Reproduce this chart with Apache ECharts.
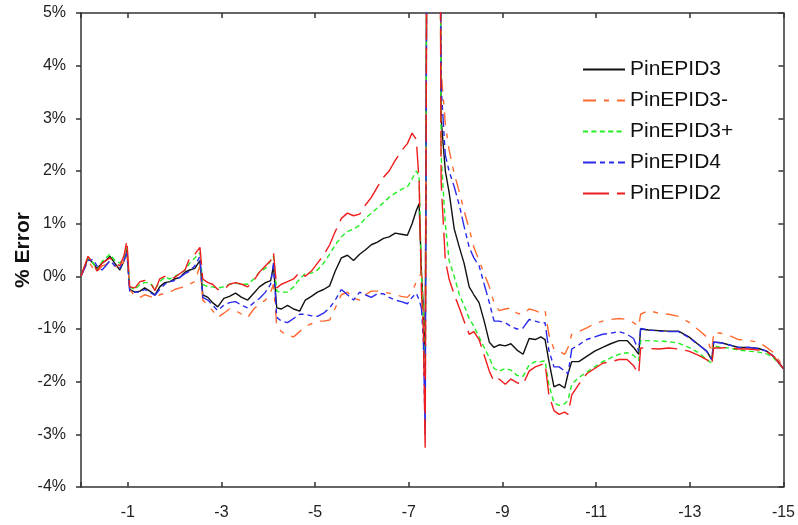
<!DOCTYPE html>
<html>
<head>
<meta charset="utf-8">
<script src="https://cdn.jsdelivr.net/npm/echarts@6/dist/echarts.min.js"></script>
<style>
html,body{margin:0;padding:0;background:#fff;}
#chart{width:798px;height:525px;}
</style>
</head>
<body>
<div id="chart"></div>
<script>
var xValues = [0,-0.15,-0.26,-0.34,-0.45,-0.53,-0.62,-0.72,-0.83,-0.92,-0.98,-1.04,-1.15,-1.26,-1.36,-1.47,-1.58,-1.68,-1.79,-1.90,-2.00,-2.11,-2.22,-2.32,-2.43,-2.54,-2.60,-2.71,-2.81,-2.92,-3.05,-3.17,-3.30,-3.43,-3.56,-3.69,-3.81,-3.94,-4.05,-4.11,-4.18,-4.28,-4.41,-4.54,-4.67,-4.79,-4.92,-5.05,-5.18,-5.31,-5.43,-5.56,-5.69,-5.82,-5.95,-6.07,-6.20,-6.33,-6.46,-6.58,-6.71,-6.84,-6.97,-7.07,-7.16,-7.22,-7.27,-7.31,-7.35,-7.39,-7.44,-7.63,-7.66,-7.69,-7.78,-7.86,-7.97,-8.08,-8.18,-8.29,-8.39,-8.50,-8.61,-8.72,-8.82,-8.93,-9.06,-9.18,-9.31,-9.44,-9.57,-9.70,-9.82,-9.91,-9.99,-10.10,-10.21,-10.33,-10.40,-10.48,-10.63,-10.80,-10.97,-11.14,-11.31,-11.49,-11.66,-11.80,-11.91,-11.95,-12.12,-12.34,-12.55,-12.76,-12.98,-13.19,-13.36,-13.47,-13.51,-13.66,-13.83,-14.04,-14.26,-14.47,-14.64,-14.79,-15.0];

var pinEPID3 = [0,0.35,0.25,0.15,0.25,0.3,0.38,0.25,0.12,0.3,0.5,-0.25,-0.3,-0.28,-0.22,-0.28,-0.35,-0.2,-0.12,-0.1,-0.05,-0.02,0.08,0.12,0.15,0.3,-0.35,-0.4,-0.5,-0.58,-0.42,-0.38,-0.32,-0.4,-0.45,-0.32,-0.2,-0.12,-0.08,0.2,-0.6,-0.62,-0.55,-0.62,-0.66,-0.45,-0.38,-0.3,-0.25,-0.18,0.1,0.35,0.4,0.3,0.42,0.5,0.6,0.65,0.72,0.75,0.82,0.8,0.78,1.0,1.25,1.38,0.1,-0.6,-1.5,8,10,10,9,3.0,2.0,1.6,0.9,0.55,0.25,-0.2,-0.35,-0.5,-0.85,-1.25,-1.35,-1.3,-1.32,-1.28,-1.4,-1.48,-1.18,-1.2,-1.15,-1.2,-1.6,-2.1,-2.05,-2.12,-1.85,-1.62,-1.62,-1.52,-1.42,-1.35,-1.28,-1.22,-1.22,-1.35,-1.48,-1.0,-1.02,-1.03,-1.04,-1.04,-1.15,-1.3,-1.42,-1.58,-1.25,-1.26,-1.3,-1.35,-1.35,-1.37,-1.42,-1.52,-1.75];

var pinEPID3Minus = [0,0.3,0.15,0.08,0.2,0.22,0.3,0.2,0.15,0.3,0.5,-0.25,-0.38,-0.4,-0.35,-0.38,-0.42,-0.35,-0.32,-0.3,-0.25,-0.22,-0.2,-0.15,-0.1,0.2,-0.45,-0.55,-0.65,-0.78,-0.7,-0.62,-0.65,-0.72,-0.78,-0.62,-0.52,-0.45,-0.3,-0.15,-0.95,-1.05,-1.12,-1.15,-1.05,-0.95,-0.9,-0.85,-0.85,-0.83,-0.6,-0.35,-0.3,-0.42,-0.45,-0.35,-0.28,-0.28,-0.3,-0.32,-0.35,-0.38,-0.4,-0.3,-0.1,0.0,0.05,-0.7,-1.1,8,10,10,9,3.9,2.9,2.4,1.95,1.6,1.25,0.9,0.55,0.3,0.05,-0.2,-0.5,-0.65,-0.62,-0.6,-0.7,-0.72,-0.62,-0.65,-0.7,-0.65,-1.1,-1.38,-1.42,-1.48,-1.35,-1.1,-1.05,-0.98,-0.9,-0.85,-0.82,-0.8,-0.82,-0.88,-0.95,-0.72,-0.65,-0.7,-0.72,-0.76,-0.87,-1.02,-1.15,-1.45,-1.06,-1.08,-1.12,-1.2,-1.22,-1.25,-1.35,-1.45,-1.72];

var pinEPID3Plus = [0,0.35,0.25,0.12,0.28,0.35,0.42,0.3,0.25,0.35,0.55,-0.2,-0.25,-0.15,-0.12,-0.12,-0.25,-0.1,-0.02,-0.05,0.0,0.05,0.12,0.25,0.35,0.45,-0.15,-0.2,-0.2,-0.22,-0.2,-0.15,-0.13,-0.15,-0.15,-0.05,0.08,0.15,0.3,0.38,-0.28,-0.3,-0.3,-0.2,-0.05,0.05,0.06,0.12,0.25,0.42,0.6,0.75,0.85,0.9,0.97,1.1,1.2,1.3,1.4,1.5,1.58,1.65,1.7,1.85,2.0,1.9,0.0,-0.8,-2.3,8,10,10,9,2.3,1.0,0.3,0.0,-0.35,-0.55,-0.8,-0.95,-1.15,-1.35,-1.55,-1.75,-1.8,-1.75,-1.78,-1.88,-1.9,-1.68,-1.62,-1.62,-1.6,-2.05,-2.4,-2.45,-2.42,-2.35,-2.05,-1.92,-1.82,-1.72,-1.62,-1.55,-1.48,-1.45,-1.5,-1.6,-1.22,-1.22,-1.23,-1.24,-1.27,-1.35,-1.45,-1.58,-1.65,-1.32,-1.35,-1.36,-1.4,-1.42,-1.44,-1.47,-1.55,-1.75];

var pinEPID4 = [0,0.3,0.32,0.2,0.12,0.2,0.3,0.2,0.15,0.3,0.45,-0.28,-0.3,-0.3,-0.25,-0.3,-0.36,-0.25,-0.15,-0.1,-0.08,-0.02,0.05,0.1,0.2,0.38,-0.4,-0.45,-0.55,-0.65,-0.55,-0.5,-0.48,-0.55,-0.6,-0.5,-0.42,-0.3,-0.15,0.25,-0.78,-0.85,-0.88,-0.8,-0.72,-0.72,-0.75,-0.76,-0.7,-0.6,-0.45,-0.25,-0.35,-0.45,-0.3,-0.35,-0.4,-0.33,-0.33,-0.4,-0.45,-0.48,-0.52,-0.4,-0.32,-0.45,-0.6,-1.2,-3.0,8,10,10,9,3.6,2.3,2.0,1.7,1.35,0.95,0.55,0.35,0.2,-0.15,-0.5,-0.85,-0.85,-0.88,-0.95,-1.0,-0.98,-0.82,-0.85,-0.88,-0.88,-1.4,-1.72,-1.72,-1.8,-1.85,-1.38,-1.3,-1.2,-1.15,-1.1,-1.08,-1.05,-1.1,-1.18,-1.42,-0.99,-1.02,-1.04,-1.05,-1.05,-1.16,-1.3,-1.42,-1.58,-1.25,-1.26,-1.3,-1.35,-1.35,-1.37,-1.42,-1.52,-1.75];

var pinEPID2 = [0,0.38,0.25,0.1,0.25,0.3,0.35,0.25,0.2,0.4,0.68,-0.2,-0.22,-0.1,-0.08,-0.1,-0.27,-0.05,0.0,-0.05,-0.02,0.05,0.12,0.35,0.42,0.55,-0.05,-0.12,-0.15,-0.25,-0.25,-0.15,-0.12,-0.15,-0.2,-0.08,0.08,0.2,0.3,0.45,-0.22,-0.15,-0.1,-0.05,0.08,0.0,0.1,0.25,0.4,0.6,0.85,1.1,1.2,1.15,1.18,1.35,1.5,1.7,1.88,2.0,2.2,2.38,2.52,2.72,2.6,1.8,-0.3,-1.0,-3.3,8,10,10,9,1.8,0.3,-0.05,-0.35,-0.6,-0.85,-1.1,-1.05,-1.2,-1.5,-1.8,-2.0,-1.95,-2.05,-1.95,-2.02,-2.05,-1.8,-1.72,-1.68,-1.65,-2.25,-2.55,-2.62,-2.58,-2.62,-2.25,-2.05,-1.85,-1.75,-1.65,-1.62,-1.58,-1.58,-1.7,-1.85,-1.36,-1.37,-1.38,-1.36,-1.38,-1.42,-1.5,-1.58,-1.68,-1.36,-1.36,-1.35,-1.38,-1.38,-1.4,-1.43,-1.52,-1.75];

var seriesNames = ['PinEPID3','PinEPID3-','PinEPID3+','PinEPID4','PinEPID2'];
var yTicks = [-4,-3,-2,-1,0,1,2,3,4,5];

var seriesValues = [pinEPID3, pinEPID3Minus, pinEPID3Plus, pinEPID4, pinEPID2];
var styles = [
  {color:'#111111', type:'solid'},
  {color:'#ff6a30', type:[13,8,5,8]},
  {color:'#22ee22', type:[5,3.4]},
  {color:'#2a2aee', type:[13,4,5,4,5,4]},
  {color:'#ee1c1c', type:[26,8]}
];

var FONT = '"Liberation Sans", Arial, sans-serif';
var axisLineStyle = {color:'#333', width:1.5};

var chart = echarts.init(document.getElementById('chart'), null, {renderer:'canvas'});
var option = {
  animation: false,
  backgroundColor: '#fff',
  grid: {left:81, right:13, top:13, bottom:38, containLabel:false},
  legend: {
    orient: 'vertical',
    left: 582, top: 58, padding: 0,
    itemWidth: 42, itemHeight: 14, itemGap: 8,
    itemStyle: {opacity: 0},
    textStyle: {fontFamily: FONT, fontSize: 21, lineHeight: 23, color:'#111'},
    data: seriesNames
  },
  xAxis: [{
    type:'value', min:-15, max:0, interval:2, inverse:true, position:'bottom',
    axisLine:{show:true, onZero:false, lineStyle:axisLineStyle},
    axisTick:{show:true, inside:true, length:5, lineStyle:axisLineStyle},
    axisLabel:{fontFamily:FONT, fontSize:16, color:'#222', margin:18,
      formatter:function(v){ return v === 0 ? '' : String(v); }},
    splitLine:{show:false}
  },{
    type:'value', min:-15, max:0, interval:2, inverse:true, position:'top',
    axisLine:{show:true, onZero:false, lineStyle:axisLineStyle},
    axisTick:{show:true, inside:true, length:5, lineStyle:axisLineStyle},
    axisLabel:{show:false},
    splitLine:{show:false}
  }],
  yAxis: [{
    type:'value', min:yTicks[0], max:yTicks[yTicks.length-1], interval:1, position:'left',
    name:'% Error', nameLocation:'middle', nameGap:47, nameMoveOverlap:false,
    nameTextStyle:{fontFamily:FONT, fontSize:21, fontWeight:'bold', color:'#111'},
    axisLine:{show:true, onZero:false, lineStyle:axisLineStyle},
    axisTick:{show:true, inside:false, length:5, lineStyle:axisLineStyle},
    axisLabel:{fontFamily:FONT, fontSize:16, color:'#222', margin:15,
      formatter:function(v){ return v + '%'; }},
    splitLine:{show:false}
  },{
    type:'value', min:yTicks[0], max:yTicks[yTicks.length-1], interval:1, position:'right',
    axisLine:{show:true, onZero:false, lineStyle:axisLineStyle},
    axisTick:{show:true, inside:true, length:5, lineStyle:axisLineStyle},
    axisLabel:{show:false},
    splitLine:{show:false}
  }],
  series: seriesNames.map(function(name, k){
    return {
      name: name, type:'line', xAxisIndex:0, yAxisIndex:0,
      symbol:'none', clip:true, silent:true,
      lineStyle:{color:styles[k].color, width:1.4, type:styles[k].type},
      itemStyle:{color:styles[k].color},
      data: xValues.map(function(x,i){ return [x, seriesValues[k][i]]; })
    };
  })
};
chart.setOption(option);
</script>
</body>
</html>
